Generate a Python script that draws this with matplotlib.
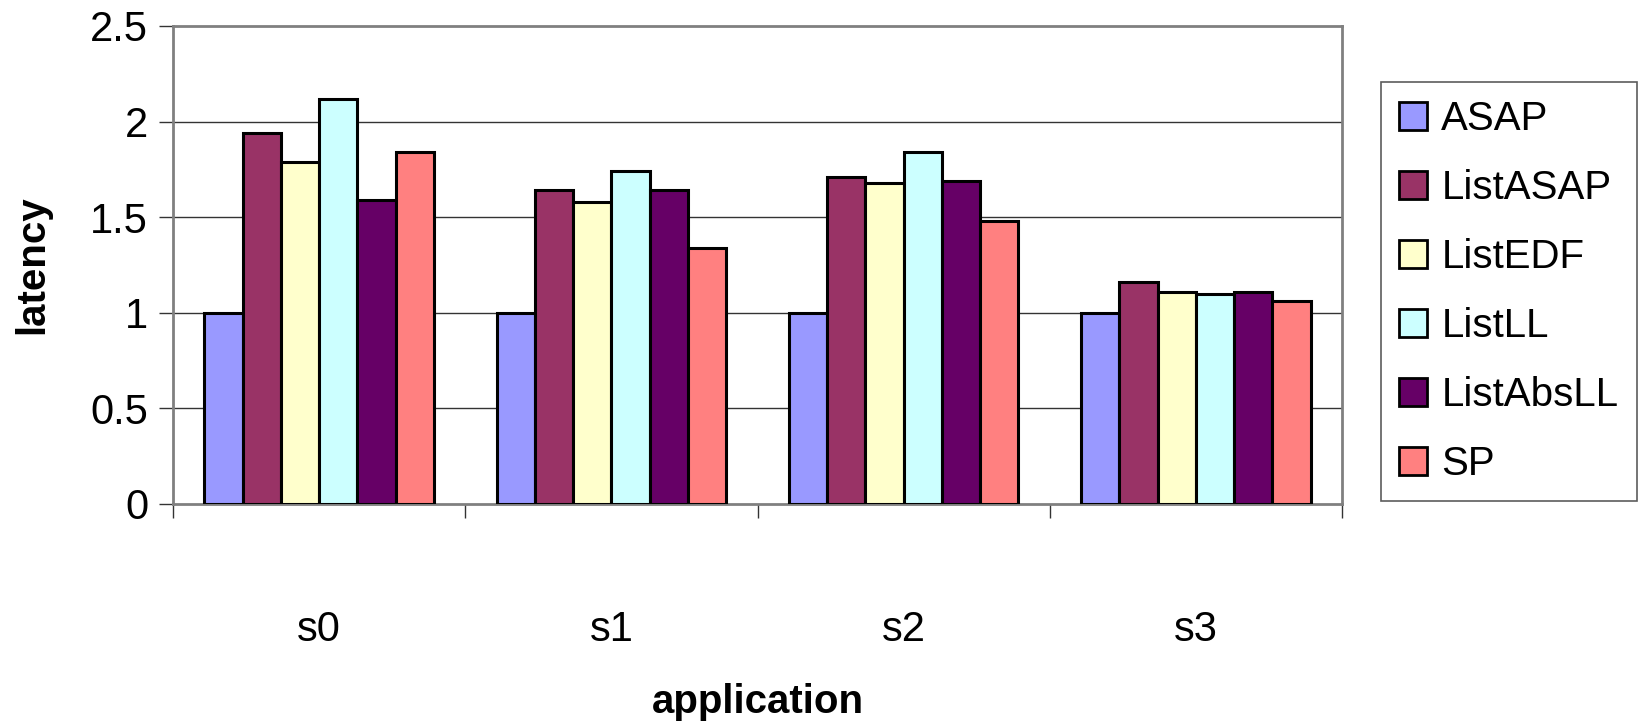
import matplotlib.pyplot as plt
import numpy as np

plt.rcParams['font.family'] = ['Liberation Sans', 'DejaVu Sans']

# data
applications = ['s0', 's1', 's2', 's3']
series_names = ['ASAP', 'ListASAP', 'ListEDF', 'ListLL', 'ListAbsLL', 'SP']
asap = [1.0, 1.0, 1.0, 1.0]
list_asap = [1.94, 1.64, 1.71, 1.16]
list_edf = [1.79, 1.58, 1.68, 1.11]
list_ll = [2.12, 1.74, 1.84, 1.10]
list_abs_ll = [1.59, 1.64, 1.69, 1.11]
sp = [1.84, 1.34, 1.48, 1.06]
y_ticks = [0, 0.5, 1, 1.5, 2, 2.5]
y_tick_labels = ['0', '0.5', '1', '1.5', '2', '2.5']

colors = ['#9999FF', '#993366', '#FFFFCC', '#CCFFFF', '#660066', '#FF8080']
all_series = [asap, list_asap, list_edf, list_ll, list_abs_ll, sp]

fig = plt.figure(figsize=(16.4, 7.24), dpi=100)
ax = fig.add_axes([0.1055, 0.3039, 0.7128, 0.6602])

x = np.arange(len(applications))
bar_w = 0.131
for i, (name, vals) in enumerate(zip(series_names, all_series)):
    offset = (i - 2.5) * bar_w
    ax.bar(x + offset, vals, width=bar_w, color=colors[i], edgecolor='black',
           linewidth=2.2, label=name, zorder=3)

ax.set_xlim(-0.5, len(applications) - 0.5)
ax.set_ylim(0, 2.5)

# grid
for yv in y_ticks[1:-1]:
    ax.axhline(yv, color='#333333', linewidth=1, zorder=1)

ax.set_yticks(y_ticks)
ax.set_yticklabels(y_tick_labels)
ax.tick_params(axis='y', length=10, width=1, color='#333333', direction='out',
               labelsize=30, pad=8)

# category labels at centres, ticks at boundaries
ax.set_xticks(x)
ax.set_xticklabels(applications)
ax.tick_params(axis='x', which='major', length=0, labelsize=30, pad=76)
ax.set_xticks(np.arange(-0.5, len(applications)), minor=True)
ax.tick_params(axis='x', which='minor', length=10, width=1, color='#333333',
               direction='out')

for side in ['top', 'right', 'left', 'bottom']:
    ax.spines[side].set_color('#808080')
    ax.spines[side].set_linewidth(2)

ax.set_ylabel('latency', fontsize=29, fontweight='bold', labelpad=28)
ax.set_xlabel('application', fontsize=29, fontweight='bold', labelpad=24)

leg = ax.legend(loc='upper left', bbox_to_anchor=(1381 / 1640, 1 - 82 / 724),
                bbox_transform=fig.transFigure, fontsize=29, frameon=True,
                fancybox=False, handlelength=0.69, handleheight=0.69,
                handletextpad=0.36, labelspacing=0.77, borderpad=0.45,
                borderaxespad=0)
leg.get_frame().set_edgecolor('#333333')
leg.get_frame().set_linewidth(1.2)
for h in leg.legend_handles:
    h.set_linewidth(2)

fig.savefig('out.png', dpi=100)
